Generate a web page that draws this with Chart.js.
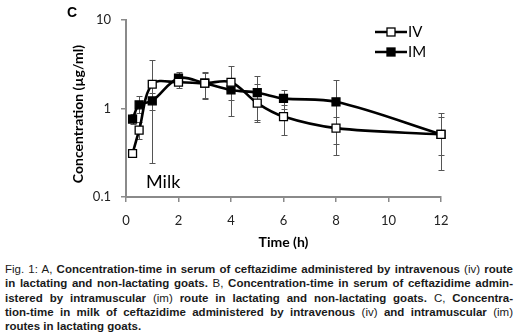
<!DOCTYPE html>
<html>
<head>
<meta charset="utf-8">
<script src="https://cdn.jsdelivr.net/npm/chart.js@4/dist/chart.umd.min.js"></script>
<style>
  html, body { margin: 0; padding: 0; background: #fff; }
  body { width: 518px; height: 336px; position: relative; overflow: hidden; }
  #wrap { position: absolute; left: 0; top: 0; width: 518px; height: 252px; }
  #legenda { position: absolute; left: 5px; top: 262px; width: 508px;
    font-family: "Liberation Sans", Arial, sans-serif;
    font-size: 11.5px; line-height: 14.3px; color: #1a1a1a; }
  #legenda div { text-align: justify; text-align-last: justify; white-space: nowrap; }
  #legenda div.ultima { text-align-last: left; }
  #legenda b { font-weight: bold; }
</style>
</head>
<body>
<div id="wrap"><canvas id="graficoLeite"></canvas></div>
<div id="legenda">
  <div>Fig. 1: A, <b>Concentration-time in serum of ceftazidime administered by intravenous</b> (iv) <b>route</b></div>
  <div><b>in lactating and non-lactating goats.</b> B, <b>Concentration-time in serum of ceftazidime admin-</b></div>
  <div><b>istered by intramuscular</b> (im) <b>route in lactating and non-lactating goats.</b> C, <b>Concentra-</b></div>
  <div><b>tion-time in milk of ceftazidime administered by intravenous</b> (iv) <b>and intramuscular</b> (im)</div>
  <div class="ultima"><b>routes in lactating goats.</b></div>
</div>
<script>
// tempos de coleta (h)
const tempos = [0.25, 0.5, 1, 2, 3, 4, 5, 6, 8, 12]

// concentracao no leite (ug/ml)
const concIV = [0.31, 0.57, 1.88, 1.98, 1.93, 1.98, 1.15, 0.81, 0.60, 0.51]
const concIM = [0.76, 1.10, 1.22, 2.20, 1.93, 1.62, 1.51, 1.30, 1.19, 0.51]

// barras de erro (min, max)
const erroIVMin = [null, 0.45, 0.24, 1.70, 1.30, 0.83, 0.71, 0.50, 0.30, 0.20]
const erroIVMax = [null, 0.70, 3.50, 2.30, 2.60, 3.05, 2.30, 1.10, 0.81, 0.88]
const erroIMMin = [0.66, 0.90, 0.95, 2.00, 1.29, 1.24, 0.75, 1.00, 0.40, 0.30]
const erroIMMax = [0.86, 1.40, 1.50, 2.60, 2.50, 2.00, 1.90, 1.60, 2.10, 0.80]

const ticksY = [0.1, 1, 10]
const ticksX = [0, 2, 4, 6, 8, 10, 12]

const fonteGrafico = 'Lato, "Open Sans", sans-serif'

function montarPontos(valores) {
    return tempos.map((t, i) => ({ x: t, y: valores[i] }))
}

const barrasErro = {
    id: 'barrasErro',
    beforeDatasetsDraw(chart) {
        const ctx = chart.ctx
        const x = chart.scales.x
        const y = chart.scales.y
        const grupos = [[erroIVMin, erroIVMax], [erroIMMin, erroIMMax]]
        ctx.save()
        ctx.strokeStyle = '#555'
        ctx.lineWidth = 1
        grupos.forEach(g => {
            tempos.forEach((t, i) => {
                if (g[0][i] == null) return
                const px = Math.round(x.getPixelForValue(t)) + 0.5
                const y1 = Math.round(y.getPixelForValue(g[0][i])) + 0.5
                const y2 = Math.round(y.getPixelForValue(g[1][i])) + 0.5
                ctx.beginPath()
                ctx.moveTo(px, y1); ctx.lineTo(px, y2)
                ctx.moveTo(px - 3, y1); ctx.lineTo(px + 3, y1)
                ctx.moveTo(px - 3, y2); ctx.lineTo(px + 3, y2)
                ctx.stroke()
            })
        })
        ctx.restore()
    }
}

const textosExtras = {
    id: 'textosExtras',
    afterDraw(chart) {
        const ctx = chart.ctx
        const area = chart.chartArea
        ctx.save()
        ctx.fillStyle = '#000'

        ctx.font = 'bold 14px "Liberation Sans", Arial, sans-serif'
        ctx.textAlign = 'left'
        ctx.textBaseline = 'middle'
        ctx.fillText('C', 67, 13)

        ctx.font = '18px ' + fonteGrafico
        ctx.fillText('Milk', 146, 182)

        ctx.font = 'bold 14px ' + fonteGrafico
        ctx.textAlign = 'center'
        ctx.fillText('Time (h)', (area.left + area.right) / 2, 242)

        ctx.save()
        ctx.translate(78, 114)
        ctx.rotate(-Math.PI / 2)
        ctx.fillText('Concentration (µg/ml)', 0, 0)
        ctx.restore()

        // legenda
        const itens = [{ nome: 'IV', cor: '#fff', y: 32 }, { nome: 'IM', cor: '#000', y: 52 }]
        itens.forEach(it => {
            ctx.strokeStyle = '#000'
            ctx.lineWidth = 2.5
            ctx.beginPath()
            ctx.moveTo(375, it.y); ctx.lineTo(407, it.y)
            ctx.stroke()
            ctx.fillStyle = it.cor
            ctx.lineWidth = 1.3
            ctx.fillRect(387, it.y - 4, 8, 8)
            ctx.strokeRect(387, it.y - 4, 8, 8)
            ctx.fillStyle = '#000'
            ctx.font = '15px ' + fonteGrafico
            ctx.textAlign = 'left'
            ctx.fillText(it.nome, 408, it.y)
        })
        ctx.restore()
    }
}

window.graficoLeite = new Chart(document.getElementById('graficoLeite'), {
    type: 'line',
    data: {
        datasets: [
            {
                label: 'IV',
                data: montarPontos(concIV),
                borderColor: '#000',
                borderWidth: 2.6,
                pointStyle: 'rect',
                pointRadius: 5.6,
                pointBackgroundColor: '#fff',
                pointBorderColor: '#000',
                pointBorderWidth: 1.3,
                tension: 0.35,
                clip: false
            },
            {
                label: 'IM',
                data: montarPontos(concIM),
                borderColor: '#000',
                borderWidth: 2.6,
                pointStyle: 'rect',
                pointRadius: 5.6,
                pointBackgroundColor: '#000',
                pointBorderColor: '#000',
                pointBorderWidth: 1.3,
                tension: 0.35,
                clip: false
            }
        ]
    },
    options: {
        responsive: true,
        maintainAspectRatio: false,
        animation: false,
        layout: {
            padding: { left: 0, right: 77, top: 20, bottom: 0 }
        },
        plugins: {
            legend: { display: false },
            tooltip: { enabled: false }
        },
        scales: {
            x: {
                type: 'linear',
                min: 0,
                max: 12,
                afterFit: scale => { scale.height = 55 },
                afterBuildTicks: scale => { scale.ticks = ticksX.map(v => ({ value: v })) },
                ticks: {
                    padding: 11,
                    color: '#222',
                    font: { family: fonteGrafico, size: 13 }
                },
                grid: {
                    display: true,
                    drawOnChartArea: false,
                    drawTicks: true,
                    tickLength: 5,
                    color: '#8a8a8a',
                    lineWidth: 1.5
                },
                border: { color: '#8a8a8a', width: 2 }
            },
            y: {
                type: 'logarithmic',
                min: 0.1,
                max: 10,
                afterFit: scale => { scale.width = 126 },
                afterBuildTicks: scale => { scale.ticks = ticksY.map(v => ({ value: v })) },
                ticks: {
                    padding: 10,
                    color: '#222',
                    font: { family: fonteGrafico, size: 13 },
                    callback: value => String(value)
                },
                grid: {
                    display: true,
                    drawOnChartArea: false,
                    drawTicks: true,
                    tickLength: 5,
                    color: '#8a8a8a',
                    lineWidth: 1.5
                },
                border: { color: '#8a8a8a', width: 2 }
            }
        }
    },
    plugins: [barrasErro, textosExtras]
})
</script>
</body>
</html>
